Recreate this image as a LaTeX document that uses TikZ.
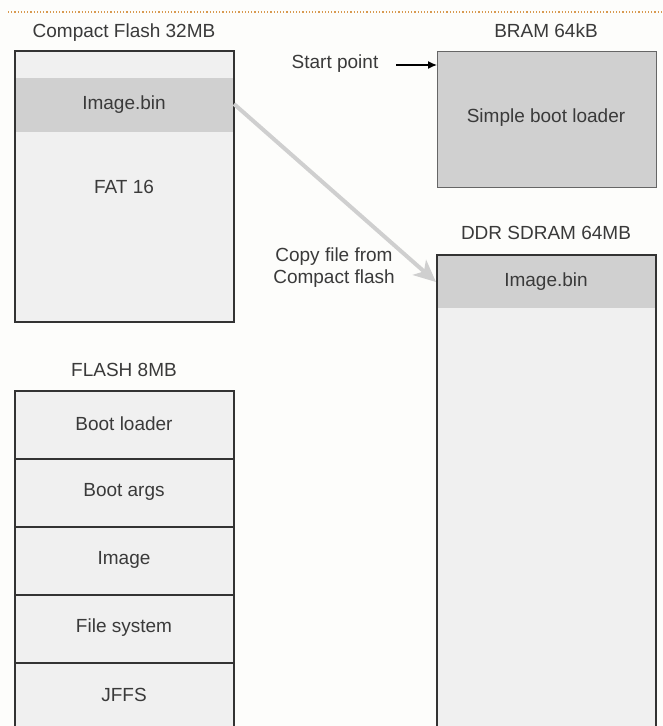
\documentclass[tikz,border=0pt]{standalone}
\usepackage{fontspec}
\setmainfont{Liberation Sans}
\usetikzlibrary{arrows.meta}
\definecolor{bg}{HTML}{FDFDFB}
\definecolor{boxfill}{HTML}{F0F0F0}
\definecolor{dark}{HTML}{333333}
\definecolor{band}{HTML}{D0D0D0}
\definecolor{txt}{HTML}{3A3A3A}
\definecolor{arrowgray}{HTML}{CFCFCF}
\definecolor{dotline}{HTML}{D89A50}
\tikzset{
  lbl/.style={text=txt, font=\fontsize{19}{22}\selectfont, inner sep=0pt},
}
\begin{document}
\begin{tikzpicture}[x=1pt,y=-1pt]
\useasboundingbox[fill=bg] (0,0) rectangle (663,726);
% top dotted line
\draw[dotline, dotted, line width=1.2pt] (8,12) -- (663,12);

% Compact flash
\node[lbl, anchor=base] (cftitle) at (124,37) {Compact Flash 32MB};
\fill[boxfill] (15,51) rectangle (234,322);
\fill[band] (15,78) rectangle (234,132);
\draw[dark, line width=1.4pt] (15,51) rectangle (234,322);
\coordinate (cfimgR) at (234,104);
\node[lbl] (cfimglbl) at (124,105) {Image.bin};
\node[lbl] (fat) at (124,187) {FAT 16};

% BRAM
\node[lbl, anchor=base] (bramtitle) at (546,37) {BRAM 64kB};
\node[draw=gray!80!black, line width=1pt, fill=band, minimum width=219pt, minimum height=136pt, inner sep=0pt, anchor=north west] (bram) at (437,51) {};
\node[lbl] (sbl) at (546,118) {Simple boot loader};
\node[lbl] (start) at (335,64) {Start point};
\coordinate (startarr) at (396,65);
\coordinate (bramin) at (437,65);
\draw[-{Latex[length=9pt,width=8pt]}, line width=1.4pt, black] (startarr) -- (bramin);

% DDR SDRAM
\node[lbl] (ddrtitle) at (546,233) {DDR SDRAM 64MB};
\fill[boxfill] (437,255) rectangle (656,730);
\fill[band] (437,255) rectangle (656,308);
\draw[dark, line width=1.4pt] (437,730) -- (437,255) -- (656,255) -- (656,730);
\node[lbl] (ddrimg) at (546,282) {Image.bin};
\coordinate (ddrin) at (436,282);

% copy arrow
\node[lbl, align=center] (copy) at (334,268) {Copy file from\\Compact flash};
\draw[arrowgray, line width=4pt, -{Stealth[length=22pt,width=20pt,inset=6pt]}] (cfimgR) -- (ddrin);

% FLASH 8MB
\node[lbl] (flashtitle) at (124,370) {FLASH 8MB};
\fill[boxfill] (15,391) rectangle (234,730);
\draw[dark, line width=1.4pt] (15,730) -- (15,391) -- (234,391) -- (234,730);
\draw[dark, line width=1.4pt] (15,459) -- (234,459);
\draw[dark, line width=1.4pt] (15,527) -- (234,527);
\draw[dark, line width=1.4pt] (15,595) -- (234,595);
\draw[dark, line width=1.4pt] (15,663) -- (234,663);
\node[lbl] (bootloader) at (124,424) {Boot loader};
\node[lbl] (bootargs) at (124,492) {Boot args};
\node[lbl] (image) at (124,560) {Image};
\node[lbl] (fs) at (124,628) {File system};
\node[lbl] (jffs) at (124,695) {JFFS};
\end{tikzpicture}
\end{document}
